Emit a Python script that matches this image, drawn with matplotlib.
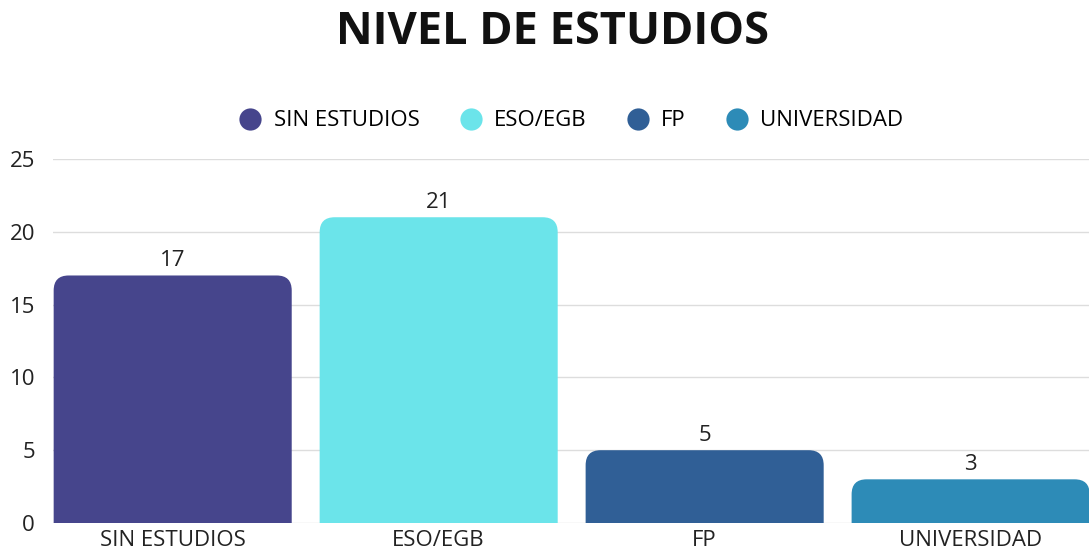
import matplotlib.pyplot as plt
from matplotlib.patches import FancyBboxPatch
from matplotlib.lines import Line2D

# Data
categories = ['SIN ESTUDIOS', 'ESO/EGB', 'FP', 'UNIVERSIDAD']
values = [17, 21, 5, 3]
colors = ['#46458c', '#6be4ea', '#305f96', '#2d8bb7']
y_ticks = [0, 5, 10, 15, 20, 25]

plt.rcParams['font.family'] = ['Open Sans', 'DejaVu Sans']

W, H = 1089, 557
fig = plt.figure(figsize=(W / 100, H / 100), dpi=100)
ax = fig.add_axes([53 / W, 1 - 523 / H, (1089 - 53) / W, (523 - 159) / H])

bar_w = 0.895
px_x = (1089 - 53) / 3.895
px_y = (523 - 159) / 25
r = 15 / px_x
aspect = (15 / px_y) / r

for i, (v, c) in enumerate(zip(values, colors)):
    box = FancyBboxPatch((i - bar_w / 2, -3), bar_w, v + 3,
                         boxstyle=f'round,pad=0,rounding_size={r}',
                         mutation_aspect=aspect, facecolor=c, edgecolor='none', zorder=2)
    ax.add_patch(box)
    ax.annotate(str(v), (i, v), xytext=(0, 3), textcoords='offset points',
                ha='center', va='bottom', fontsize=16, color='#222222')

ax.set_xlim(-0.45, 3.445)
ax.set_ylim(0, 25)
ax.set_yticks(y_ticks)
ax.set_xticks(range(len(categories)))
ax.set_xticklabels(categories)
ax.tick_params(axis='both', length=0, labelsize=16, colors='#222222')
ax.tick_params(axis='y', pad=13)
ax.tick_params(axis='x', pad=5)
for s in ax.spines.values():
    s.set_visible(False)
ax.yaxis.grid(True, color='#dddddd', linewidth=1)
ax.set_axisbelow(True)

fig.text(552 / W, 1 - 33 / H, 'NIVEL DE ESTUDIOS', ha='center', va='center',
         fontsize=32.5, fontweight='bold', color='#111111')

handles = [Line2D([], [], marker='o', linestyle='none', markersize=16,
                  markerfacecolor=c, markeredgecolor='none') for c in colors]
fig.legend(handles, categories, loc='center', bbox_to_anchor=(570 / W, 1 - 121 / H),
           ncol=4, frameon=False, fontsize=16, handletextpad=0.45,
           columnspacing=1.7, handlelength=1.2)

fig.savefig('out.png', dpi=100)
